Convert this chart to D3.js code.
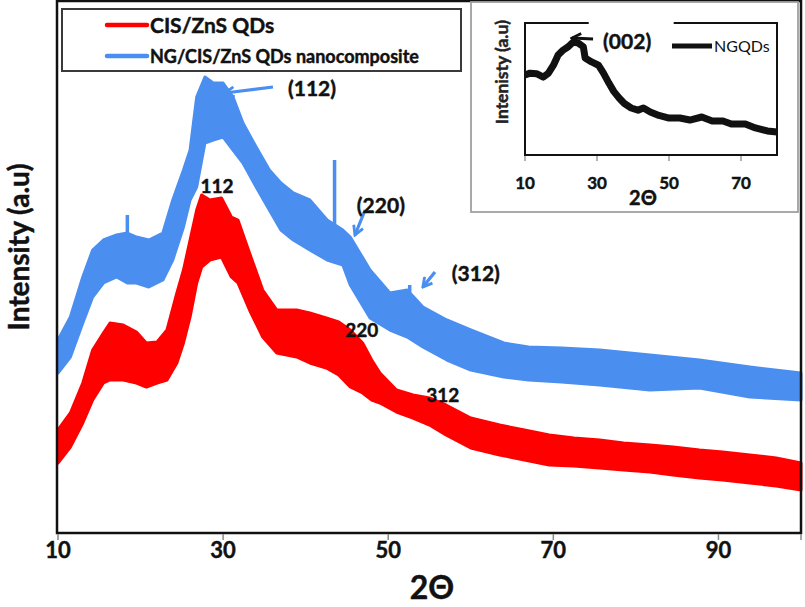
<!DOCTYPE html>
<html><head><meta charset="utf-8">
<script src="https://cdn.jsdelivr.net/npm/d3@7"></script>
<style>body{margin:0;background:#fff} svg{display:block} text{font-family:Lato,'Open Sans',sans-serif} text.b{font-weight:bold;stroke:#111;stroke-width:0.45px;paint-order:stroke}</style>
</head><body><svg id="c" width="805" height="607"></svg>
<script>
// ---------- DATA ----------
const seriesNames = ["CIS/ZnS QDs", "NG/CIS/ZnS QDs nanocomposite"];
const seriesColors = ["#ff0000", "#4a8ef0"];

// CIS/ZnS QDs: noise envelope (upper / lower) of the trace
const cisTheta = [10,11.5,13,14.2,15.5,16.3,17.9,19.5,20.7,22,23.2,24.4,25.2,26,26.8,27.4,28.4,29.8,31,31.8,33.2,34.8,36.5,38.9,40.5,42.5,44,45.4,46.9,48,49,51,53,55,57,60,63.5,66.5,69.5,72.5,75.6,78.5,81.7,84.5,87.7,90.5,93.8,97,100];
const cisUpper = [103,120,150,183,200,210,208,201,190,191,203,240,263,293,323,338,333,335,316,313,280,243,223,223,220,215,211,203,190,173,160,143,138,135,128,115,108,103,98,95,93,90,88,86,83,81,78,75,70];
const cisLower = [70,86,110,133,150,153,153,150,146,150,153,170,190,216,250,266,273,276,256,250,223,196,180,176,170,165,158,146,140,133,130,121,115,108,98,85,78,73,68,67,65,63,61,58,55,53,50,47,43];

// NG/CIS/ZnS QDs nanocomposite
const ngTheta = [10,11.5,13,14.2,15.5,17.1,18.4,19.5,21,22.7,23.9,25.2,26,26.8,27.8,28.8,30,31.2,32.4,34,35.6,37,38.5,40.5,42.6,44.5,45.4,47.8,50.2,52.3,54.2,57.1,60,64,67,71,75.6,81.7,87.7,93.8,100];
const ngUpper = [193,216,256,283,293,298,300,296,293,300,333,363,383,436,456,450,450,436,410,386,363,350,340,333,313,303,296,263,240,243,226,213,203,190,186,185,183,178,173,166,160];
const ngLower = [160,176,210,236,250,256,250,250,246,253,273,306,333,346,390,393,396,383,370,346,323,303,293,283,273,268,248,215,203,196,186,173,163,156,153,151,148,143,145,136,133];
const ngSpikes = [{theta:18.4, top:318}, {theta:43.5, top:373}, {theta:52.6, top:248}];

// Inset: NGQDs
const insetName = "NGQDs";
const insetTheta = [10,11.4,13.2,15.1,16.5,17.9,19.2,20.6,22,23.4,24.8,26.2,26.7,28.5,30.4,31.8,33.3,34.7,36.2,37.6,39.5,41.4,42.9,44.8,47.2,50,53,55.8,59.1,62,65,67.3,71.2,74,77.3,80];
const insetValues = [60.6,62,61.6,59,62,68,75.7,79.5,82,85.6,84.8,82,73.5,70.5,68,62,54.5,48,43,39,35.6,34,35.6,32.6,30,28,28,26.5,28.8,25.8,25.8,23.5,23.5,20.5,18.2,17.4];

const xTicks = [10,30,50,70,90];
const insetTicks = [10,30,50,70];

// peak annotations (data coordinates)
const ngPeaks = [
  {label:"(112)", tx:37.86, tv:437, from:[36.04,446], to:[30.23,440]},
  {label:"(220)", tx:46.2, tv:320, from:[47.2,323], to:[45.97,298]},
  {label:"(312)", tx:57.7, tv:252, from:[55.66,261], to:[54.2,246]}
];
const cisPeaks = [
  {label:"112", tx:29.26, tv:340},
  {label:"220", tx:46.8, tv:196},
  {label:"312", tx:56.6, tv:131}
];
const insetPeak = {label:"(002)", tx:31.7, tv:80.3, from:[28.9,87.9], to:[23.05,88.6]};

// ---------- CHART ----------
const svg = d3.select("#c");
const X0 = 58, X1 = 801, Y0 = 533, Y1 = 1;
const x = d3.scaleLinear().domain([10,100]).range([X0,X1]);
const y = d3.scaleLinear().domain([0,532]).range([Y0,Y1]);

const defs = svg.append("defs");
function mk(id, color){
  defs.append("marker").attr("id",id).attr("viewBox","0 0 12 12").attr("refX",10).attr("refY",6)
    .attr("markerWidth",12).attr("markerHeight",12).attr("markerUnits","userSpaceOnUse").attr("orient","auto")
    .append("path").attr("d","M1,1 L10,6 L1,11").attr("fill","none").attr("stroke",color).attr("stroke-width",2.8);
}
mk("arB", seriesColors[1]); mk("arK", "#111");

// series bands
const series = [
  {theta:cisTheta, hi:cisUpper, lo:cisLower, color:seriesColors[0]},
  {theta:ngTheta, hi:ngUpper, lo:ngLower, color:seriesColors[1]}
];
series.forEach(s=>{
  const pts = s.theta.map((t,i)=>({t, hi:s.hi[i], lo:s.lo[i]}));
  const area = d3.area().x(d=>x(d.t)).y0(d=>y(d.lo)).y1(d=>y(d.hi));
  svg.append("path").datum(pts).attr("d",area).attr("fill",s.color)
    .attr("stroke",s.color).attr("stroke-width",3).attr("stroke-linejoin","round");
});
// spikes
ngSpikes.forEach(sp=>{
  const i = d3.bisectLeft(ngTheta, sp.theta);
  const base = d3.interpolateNumber(ngUpper[i-1], ngUpper[i])((sp.theta-ngTheta[i-1])/(ngTheta[i]-ngTheta[i-1]));
  svg.append("line").attr("x1",x(sp.theta)).attr("x2",x(sp.theta)).attr("y1",y(sp.top)).attr("y2",y(base-10))
    .attr("stroke",seriesColors[1]).attr("stroke-width",3.5);
});

// frame
svg.append("rect").attr("x",X0-1).attr("y",Y1).attr("width",X1-X0+1).attr("height",Y0-Y1)
  .attr("fill","none").attr("stroke","#111").attr("stroke-width",2.5);

// x axis
const xa = svg.append("g");
xTicks.concat([100]).forEach(t=>{
  xa.append("line").attr("x1",x(t)).attr("x2",x(t)).attr("y1",Y0+1).attr("y2",Y0+7).attr("stroke","#8a8a8a").attr("stroke-width",1.5);
});
xa.selectAll("text.t").data(xTicks).enter().append("text").attr("class","t b")
  .attr("x",d=>x(d)).attr("y",558).attr("text-anchor","middle")
  .attr("font-size",22).attr("fill","#111").text(d=>d);
svg.append("text").attr("class","b").attr("x",432).attr("y",599).attr("text-anchor","middle").attr("font-size",32)
  .attr("fill","#111").text("2Θ");
svg.append("text").attr("class","b").attr("transform","translate(29,247) rotate(-90)").attr("text-anchor","middle")
  .attr("font-size",28).attr("fill","#111").text("Intensity (a.u)");

// peak labels
ngPeaks.forEach(p=>{
  svg.append("line").attr("x1",x(p.from[0])).attr("y1",y(p.from[1])).attr("x2",x(p.to[0])).attr("y2",y(p.to[1]))
    .attr("stroke",seriesColors[1]).attr("stroke-width",3.2).attr("marker-end","url(#arB)");
  svg.append("text").attr("class","b").attr("x",x(p.tx)).attr("y",y(p.tv)).attr("font-size",21).attr("fill","#111").text(p.label);
});
cisPeaks.forEach(p=>{
  svg.append("text").attr("class","b").attr("x",x(p.tx)).attr("y",y(p.tv)).attr("text-anchor","middle").attr("font-size",19).attr("fill","#111").text(p.label);
});

// legend
const lg = svg.append("g");
lg.append("rect").attr("x",62).attr("y",9).attr("width",399).attr("height",62).attr("fill","#fff").attr("stroke","#3a3a3a").attr("stroke-width",2);
[[25,21,33],[56,18,63]].forEach((r,i)=>{
  lg.append("line").attr("x1",107).attr("x2",147).attr("y1",r[0]).attr("y2",r[0]).attr("stroke",seriesColors[i]).attr("stroke-width",4.5).attr("stroke-linecap","round");
  lg.append("text").attr("class","b").attr("x",150).attr("y",r[2]).attr("font-size",r[1]).attr("fill","#111").text(seriesNames[i]);
});

// ---------- INSET ----------
const ig = svg.append("g");
ig.append("rect").attr("x",471).attr("y",2).attr("width",327).attr("height",210).attr("fill","#fff").attr("stroke","#a0a0a0").attr("stroke-width",1.8);
const IX0=525, IX1=777, IY0=155, IY1=23;
const ix = d3.scaleLinear().domain([10,80]).range([IX0,IX1]);
const iy = d3.scaleLinear().domain([0,100]).range([IY0,IY1]);
ig.append("path").datum(insetTheta.map((t,i)=>[t,insetValues[i]]))
  .attr("d", d3.line().x(d=>ix(d[0])).y(d=>iy(d[1])))
  .attr("fill","none").attr("stroke","#111").attr("stroke-width",7).attr("stroke-linejoin","round");
// inset frame (top edge interrupted by legend)
ig.append("path").attr("d",`M${ix(27.7)},${IY1} L${IX0},${IY1} L${IX0},${IY0} L${IX1},${IY0} L${IX1},${IY1} L${ix(51.3)},${IY1}`)
  .attr("fill","none").attr("stroke","#111").attr("stroke-width",2);
insetTicks.forEach(t=>{
  ig.append("line").attr("x1",ix(t)).attr("x2",ix(t)).attr("y1",IY0+1).attr("y2",IY0+6).attr("stroke","#8a8a8a").attr("stroke-width",1.3);
});
ig.selectAll("text.it").data(insetTicks).enter().append("text").attr("class","it b")
  .attr("x",d=>ix(d)).attr("y",189).attr("text-anchor","middle").attr("font-size",17).attr("fill","#111").text(d=>d);
ig.append("text").attr("class","b").attr("x",643).attr("y",205).attr("text-anchor","middle").attr("font-size",20).attr("fill","#111").text("2Θ");
ig.append("text").attr("class","b").attr("transform","translate(508,72) rotate(-90)").attr("text-anchor","middle").attr("font-size",17.5).attr("fill","#222").text("Intenisty (a.u)");
ig.append("line").attr("x1",ix(insetPeak.from[0])).attr("y1",iy(insetPeak.from[1])).attr("x2",ix(insetPeak.to[0])).attr("y2",iy(insetPeak.to[1]))
  .attr("stroke","#111").attr("stroke-width",3).attr("marker-end","url(#arK)");
ig.append("text").attr("class","b").attr("x",ix(insetPeak.tx)).attr("y",iy(insetPeak.tv)).attr("font-size",21).attr("fill","#111").text(insetPeak.label);
ig.append("line").attr("x1",672).attr("x2",712).attr("y1",46).attr("y2",46).attr("stroke","#111").attr("stroke-width",5);
ig.append("text").attr("x",714).attr("y",52).attr("font-size",16).attr("fill","#111").text(insetName);
</script></body></html>
